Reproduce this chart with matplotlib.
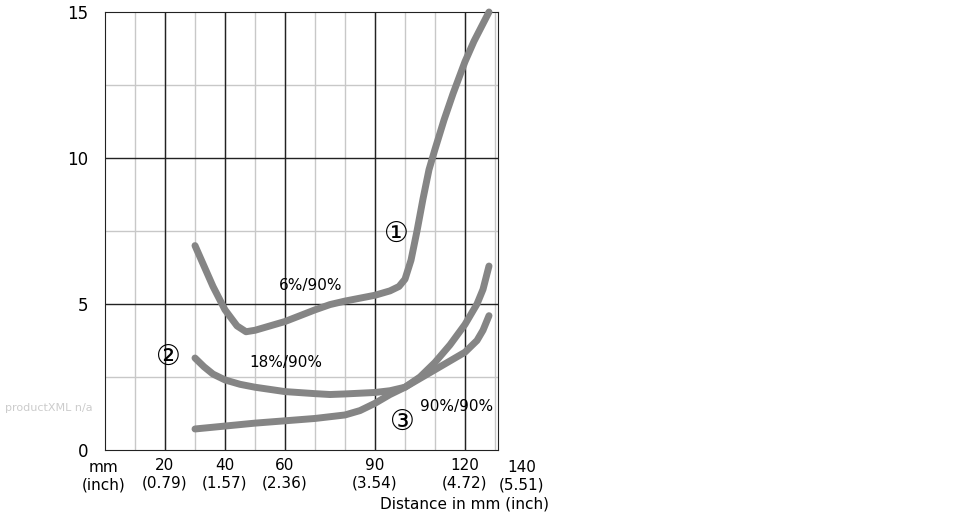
import matplotlib
matplotlib.use("Agg")
import matplotlib.pyplot as plt

c1_x = [30, 33, 36, 40, 44, 47, 50, 55, 60, 65, 70, 75, 80, 85, 90, 95, 98, 100, 102, 104, 106, 108, 110, 113, 116, 120, 123, 126, 128]
c1_y = [7.0, 6.3, 5.6, 4.8, 4.25, 4.05, 4.1, 4.25, 4.4, 4.6, 4.8, 4.98, 5.1, 5.2, 5.3, 5.45, 5.6, 5.85, 6.5, 7.5, 8.6, 9.6, 10.3, 11.3, 12.2, 13.3, 14.0, 14.6, 15.0]
c2_x = [30, 33, 36, 40, 45, 50, 60, 70, 75, 80, 90, 95, 100, 105, 110, 115, 120, 124, 126, 128]
c2_y = [3.15, 2.85, 2.6, 2.4, 2.25, 2.15, 2.0, 1.93, 1.9, 1.92, 1.97, 2.03, 2.15, 2.5, 3.0, 3.6, 4.3, 5.0, 5.5, 6.3]
c3_x = [30, 40, 50, 60, 70, 80, 85, 90, 95, 100, 105, 110, 115, 120, 124, 126, 128]
c3_y = [0.72, 0.82, 0.92, 1.0, 1.08, 1.2, 1.35, 1.6, 1.9, 2.15, 2.45, 2.75, 3.05, 3.35, 3.75, 4.1, 4.6]

x_major = [20, 40, 60, 90, 120]
x_labels = ["20\n(0.79)", "40\n(1.57)", "60\n(2.36)", "90\n(3.54)", "120\n(4.72)"]
y_major = [0, 5, 10, 15]

fig = plt.figure(figsize=(9.7, 5.2), dpi=100)
ax = fig.add_axes([105/970, 1-450/520, (498-105)/970, (450-12)/520])
ax.set_xlim(0, 131)
ax.set_ylim(0, 15)
for x in range(10, 131, 10):
    ax.axvline(x, color="#c8c8c8", lw=1, zorder=0)
for y in [2.5, 7.5, 12.5]:
    ax.axhline(y, color="#c8c8c8", lw=1, zorder=0)
for x in [20, 40, 60, 90, 120]:
    ax.axvline(x, color="#222222", lw=1, zorder=0)
for y in [5, 10]:
    ax.axhline(y, color="#222222", lw=1, zorder=0)

col = "#858585"
for xs, ys in [(c1_x, c1_y), (c2_x, c2_y), (c3_x, c3_y)]:
    ax.plot(xs, ys, color=col, lw=5, solid_capstyle="round", solid_joinstyle="round", zorder=3, clip_on=False)

ax.set_xticks(x_major)
ax.set_xticklabels(x_labels, fontsize=11)
ax.set_yticks(y_major)
ax.set_yticklabels([str(v) for v in y_major], fontsize=12)
ax.tick_params(length=0, pad=6)
ax.tick_params(axis="y", pad=12)
for s in ax.spines.values():
    s.set_color("#222222")

tk = dict(fontsize=11, transform=ax.transData, ha="center", va="top", clip_on=False)
ax.text(-0.5, -0.33, "mm\n(inch)", **tk)
ax.text(139, -0.33, "140\n(5.51)", **tk)
ax.text(148, -1.6, "Distance in mm (inch)", fontsize=11, ha="right", va="top", clip_on=False)

ax.text(58, 5.65, "6%/90%", fontsize=11, ha="left", va="center")
ax.text(48, 3.0, "18%/90%", fontsize=11, ha="left", va="center")
ax.text(105, 1.5, "90%/90%", fontsize=11, ha="left", va="center")
ax.text(97, 7.4, "①", fontsize=20, ha="center", va="center")
ax.text(21, 3.2, "②", fontsize=20, ha="center", va="center")
ax.text(99, 0.95, "③", fontsize=20, ha="center", va="center")

fig.text(5/970, 1-408/520, "productXML n/a", fontsize=8, color="#cccccc", ha="left", va="center")
fig.savefig("out.png", dpi=100)
